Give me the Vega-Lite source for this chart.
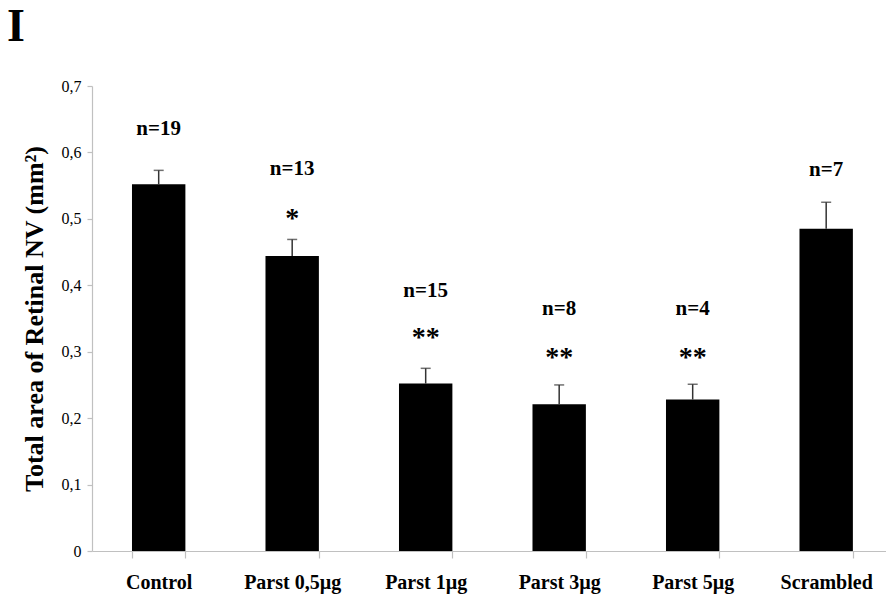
{
  "$schema": "https://vega.github.io/schema/vega-lite/v6.json",
  "autosize": "none",
  "width": 794,
  "height": 465,
  "padding": {"left": 92, "top": 86, "right": 0, "bottom": 43},
  "background": "white",
  "config": {
    "view": {"stroke": null},
    "locale": {"number": {"decimal": ",", "thousands": ".", "grouping": [3], "currency": ["", " €"]}},
    "font": "Liberation Serif"
  },
  "title": {
    "text": "I",
    "anchor": "start",
    "frame": "group",
    "font": "Liberation Serif",
    "fontSize": 46,
    "fontWeight": "bold",
    "color": "black",
    "dx": -85,
    "dy": 36,
    "baseline": "alphabetic",
    "offset": 27
  },
  "data": {
    "values": [
      {"group": "Control", "mean": 0.552, "upper": 0.573, "n": "n=19", "n_at": 0.635, "sig": "", "sig_at": 0.6},
      {"group": "Parst 0,5µg", "mean": 0.444, "upper": 0.469, "n": "n=13", "n_at": 0.575, "sig": "*", "sig_at": 0.509},
      {"group": "Parst 1µg", "mean": 0.252, "upper": 0.275, "n": "n=15", "n_at": 0.392, "sig": "**", "sig_at": 0.329},
      {"group": "Parst 3µg", "mean": 0.221, "upper": 0.25, "n": "n=8", "n_at": 0.364, "sig": "**", "sig_at": 0.299},
      {"group": "Parst 5µg", "mean": 0.228, "upper": 0.251, "n": "n=4", "n_at": 0.364, "sig": "**", "sig_at": 0.299},
      {"group": "Scrambled", "mean": 0.485, "upper": 0.525, "n": "n=7", "n_at": 0.573, "sig": "", "sig_at": 0.6}
    ]
  },
  "encoding": {
    "x": {
      "field": "group",
      "type": "nominal",
      "sort": null,
      "scale": {"paddingInner": 0.6, "paddingOuter": 0.2738, "align": 0.547},
      "axis": {
        "title": null,
        "labelAngle": 0,
        "labelFont": "Liberation Serif",
        "labelFontSize": 20,
        "labelFontWeight": "bold",
        "labelColor": "black",
        "labelPadding": 14,
        "tickBand": "extent",
        "tickSize": 7,
        "tickColor": "#c0c0c0",
        "domainColor": "#c0c0c0",
        "domainWidth": 1.2,
        "tickWidth": 1.2
      }
    }
  },
  "layer": [
    {
      "mark": {"type": "bar", "color": "black"},
      "encoding": {
        "y": {
          "field": "mean",
          "type": "quantitative",
          "scale": {"domain": [0, 0.7]},
          "axis": {
            "title": "Total area of Retinal NV (mm²)",
            "titleFont": "Liberation Serif",
            "titleFontSize": 26,
            "titleFontWeight": "bold",
            "titleColor": "black",
            "titlePadding": 14,
            "values": [0, 0.1, 0.2, 0.3, 0.4, 0.5, 0.6, 0.7],
            "format": ".1~f",
            "labelFont": "Liberation Serif",
            "labelFontSize": 16,
            "labelColor": "black",
            "labelPadding": 6,
            "grid": false,
            "tickSize": 5,
            "tickColor": "#c0c0c0",
            "domainColor": "#c0c0c0",
            "domainWidth": 1.2,
            "tickWidth": 1.2
          }
        }
      }
    },
    {
      "mark": {"type": "rule", "color": "#333333", "strokeWidth": 1.5},
      "encoding": {
        "y": {"field": "mean", "type": "quantitative"},
        "y2": {"field": "upper"}
      }
    },
    {
      "mark": {"type": "tick", "orient": "horizontal", "color": "#333333", "size": 10, "thickness": 1.5},
      "encoding": {
        "y": {"field": "upper", "type": "quantitative"}
      }
    },
    {
      "mark": {"type": "text", "font": "Liberation Serif", "fontSize": 21, "fontWeight": "bold", "color": "black", "baseline": "middle"},
      "encoding": {
        "y": {"field": "n_at", "type": "quantitative"},
        "text": {"field": "n"}
      }
    },
    {
      "mark": {"type": "text", "font": "Liberation Serif", "fontSize": 28, "fontWeight": "bold", "color": "black", "baseline": "middle", "dy": 6},
      "encoding": {
        "y": {"field": "sig_at", "type": "quantitative"},
        "text": {"field": "sig"}
      }
    }
  ]
}
